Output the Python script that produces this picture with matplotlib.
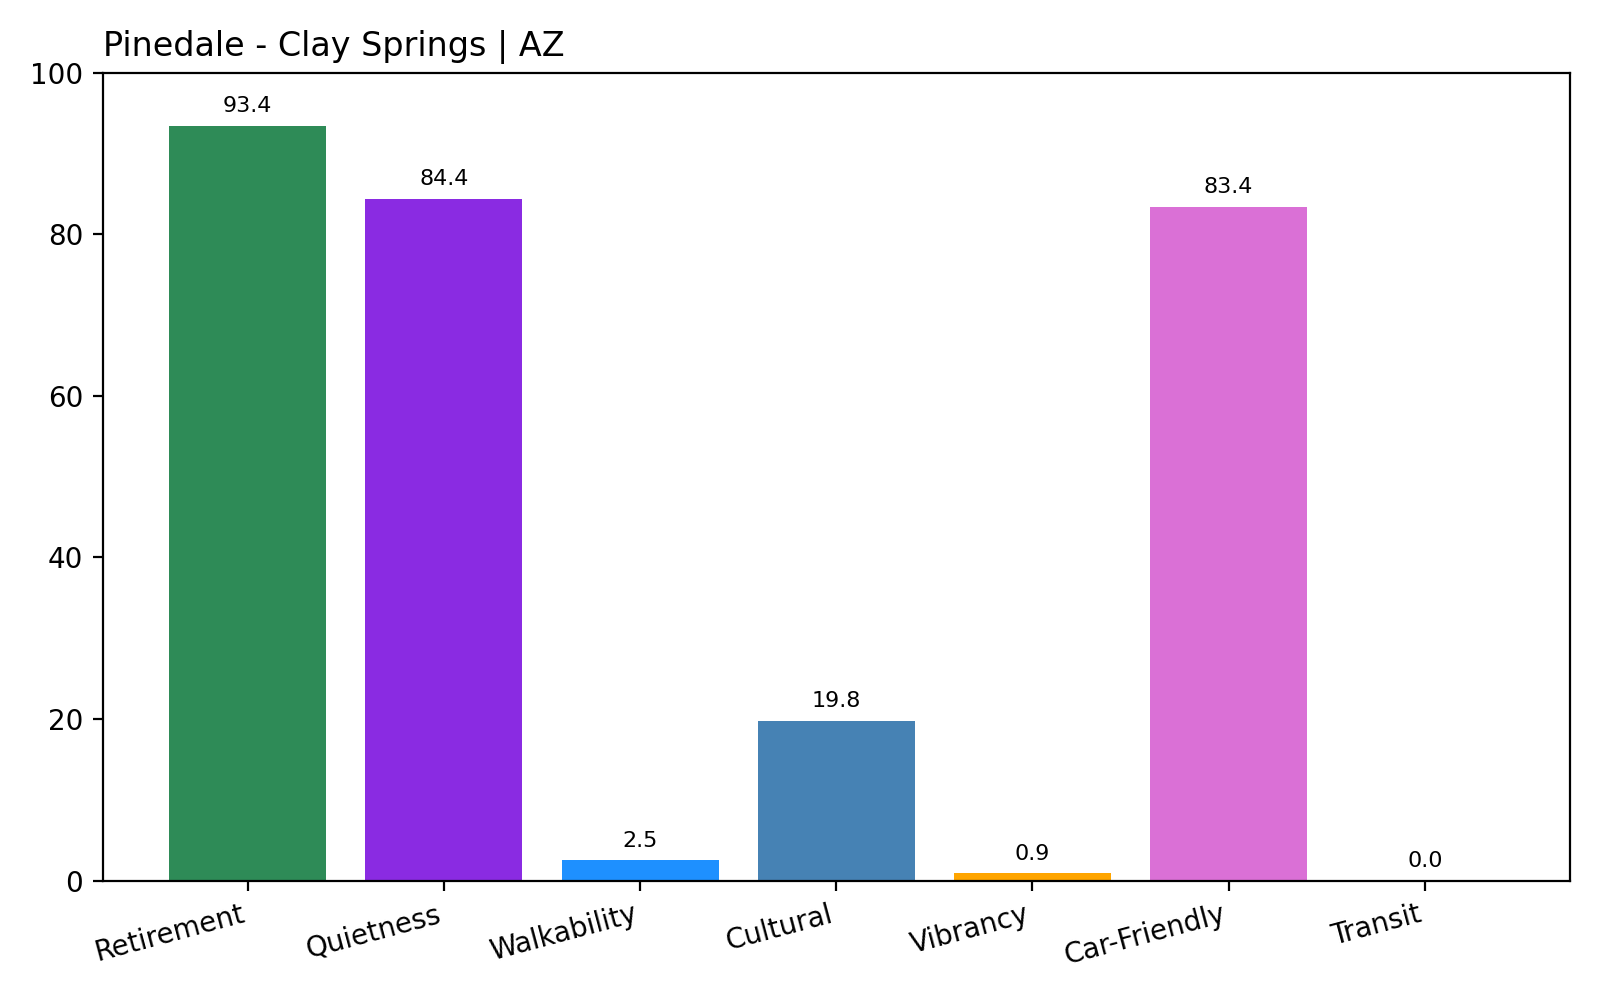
import matplotlib
matplotlib.use("Agg")
import matplotlib.pyplot as plt

categories = ['Retirement', 'Quietness', 'Walkability', 'Cultural', 'Vibrancy', 'Car-Friendly', 'Transit']
scores = [93.4, 84.4, 2.5, 19.8, 0.9, 83.4, 0.0]
colors = ['seagreen', 'blueviolet', 'dodgerblue', 'steelblue', 'orange', 'orchid', 'gray']

fig, ax = plt.subplots(figsize=(8, 5), dpi=200)
bars = ax.bar(categories, scores, color=colors)
for b, v in zip(bars, scores):
    ax.text(b.get_x() + b.get_width() / 2, v + 1.2, f'{v:.1f}', ha='center', va='bottom', fontsize=8)

ax.set_ylim(0, 100)
ax.set_title('Pinedale - Clay Springs | AZ', loc='left')
plt.xticks(rotation=15, ha='right')
plt.tight_layout()
plt.savefig('out.png')
